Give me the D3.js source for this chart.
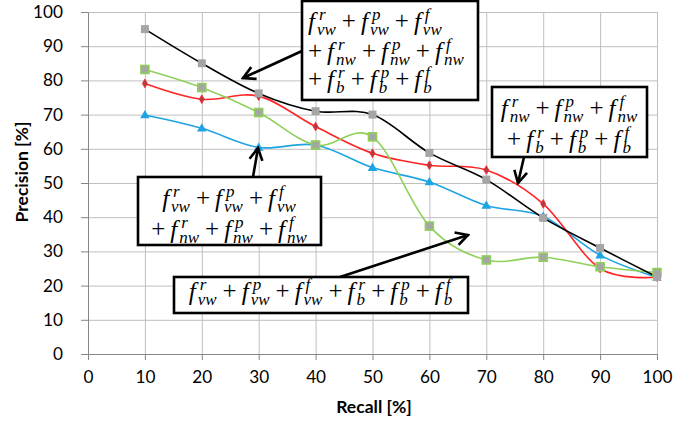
<!DOCTYPE html>
<html>
<head>
<meta charset="utf-8">
<script src="https://cdn.jsdelivr.net/npm/d3@7"></script>
<style>
  body { margin: 0; background: #fff; }
  svg { display: block; }
  .tick text { font-family: Lato, "Open Sans", sans-serif; font-size: 17.2px; fill: #000; }
</style>
</head>
<body>
<div id="chart"></div>
<script>
// Precision / recall curves for four feature combinations

var recall = [10, 20, 30, 40, 50, 60, 70, 80, 90, 100];
var xTicks = [0, 10, 20, 30, 40, 50, 60, 70, 80, 90, 100];
var yTicks = [0, 10, 20, 30, 40, 50, 60, 70, 80, 90, 100];

// all nine features (black line, grey squares)
var precAll = [95, 85, 76.2, 71, 70, 58.8, 51, 39.8, 31, 22.5];
// vw + b (green line)
var precVwB = [83.2, 77.9, 70.6, 61.1, 63.5, 37.4, 27.5, 28.3, 25.5, 23.8];
// nw + b (red line)
var precNwB = [79.1, 74.5, 75.4, 66.5, 58.7, 55.2, 53.8, 43.9, 25, 22.5];
// vw + nw (blue line)
var precVwNw = [69.9, 66, 60.4, 61.1, 54.5, 50.3, 43.4, 40.2, 28.9, 22.4];

// annotation formulas: each term is [superscript, subscript]
var formulaAll = [
    { lead: false, terms: [['r', 'vw'], ['p', 'vw'], ['f', 'vw']] },
    { lead: true,  terms: [['r', 'nw'], ['p', 'nw'], ['f', 'nw']] },
    { lead: true,  terms: [['r', 'b'], ['p', 'b'], ['f', 'b']] }
];
var formulaNwB = [
    { lead: false, terms: [['r', 'nw'], ['p', 'nw'], ['f', 'nw']] },
    { lead: true,  terms: [['r', 'b'], ['p', 'b'], ['f', 'b']] }
];
var formulaVwNw = [
    { lead: false, terms: [['r', 'vw'], ['p', 'vw'], ['f', 'vw']] },
    { lead: true,  terms: [['r', 'nw'], ['p', 'nw'], ['f', 'nw']] }
];
var formulaVwB = [
    { lead: false, terms: [['r', 'vw'], ['p', 'vw'], ['f', 'vw'], ['r', 'b'], ['p', 'b'], ['f', 'b']] }
];

var width = 675, height = 423;
var margin = { top: 12, right: 18, bottom: 69, left: 88 };
var FONT = 'Lato, "Open Sans", sans-serif';
var MATH = '"Liberation Serif", "DejaVu Serif", serif';

var svg = d3.select('#chart').append('svg')
    .attr('width', width)
    .attr('height', height);

var x = d3.scaleLinear().domain([0, 100]).range([margin.left, width - margin.right]);
var y = d3.scaleLinear().domain([0, 100]).range([height - margin.bottom, margin.top]);

// ============================================================================
// GRID + AXES
// ============================================================================

svg.append('g')
    .attr('transform', 'translate(0,' + y(0) + ')')
    .call(d3.axisBottom(x).tickValues(xTicks).tickSize(-(y(0) - y(100))).tickFormat(''))
    .call(function(g) {
        g.select('.domain').remove();
        g.selectAll('line').attr('stroke', '#bfbfbf');
    });

svg.append('g')
    .attr('transform', 'translate(' + x(0) + ',0)')
    .call(d3.axisLeft(y).tickValues(yTicks).tickSize(-(x(100) - x(0))).tickFormat(''))
    .call(function(g) {
        g.select('.domain').remove();
        g.selectAll('line').attr('stroke', '#bfbfbf');
    });

svg.append('g')
    .attr('transform', 'translate(0,' + y(0) + ')')
    .call(d3.axisBottom(x).tickValues(xTicks).tickSize(6).tickSizeOuter(0).tickPadding(11))
    .call(function(g) {
        g.select('.domain').attr('stroke', '#868686');
        g.selectAll('line').attr('stroke', '#868686');
    });

svg.append('g')
    .attr('transform', 'translate(' + x(0) + ',0)')
    .call(d3.axisLeft(y).tickValues(yTicks).tickSize(7).tickSizeOuter(0).tickPadding(18))
    .call(function(g) {
        g.select('.domain').attr('stroke', '#868686');
        g.selectAll('line').attr('stroke', '#868686');
    });

svg.append('text')
    .attr('x', 374)
    .attr('y', 413)
    .attr('text-anchor', 'middle')
    .style('font-family', FONT).style('font-weight', 'bold').style('font-size', '17.5px')
    .text('Recall [%]');

svg.append('text')
    .attr('transform', 'translate(28,172) rotate(-90)')
    .attr('text-anchor', 'middle')
    .style('font-family', FONT).style('font-weight', 'bold').style('font-size', '17.5px')
    .text('Precision [%]');

// ============================================================================
// SERIES
// ============================================================================

var line = d3.line()
    .x(function(d) { return x(d[0]); })
    .y(function(d) { return y(d[1]); })
    .curve(d3.curveCardinal.tension(0));

function pairs(vals) { return recall.map(function(r, i) { return [r, vals[i]]; }); }

var series = [
    { vals: precVwNw, color: '#1ea3e3', marker: 'triangle' },
    { vals: precNwB, color: '#ff2525', marker: 'diamond' },
    { vals: precVwB, color: '#8fd058', marker: 'greensq' },
    { vals: precAll, color: '#000000', marker: 'greysq' }
];

series.forEach(function(s) {
    svg.append('path')
        .datum(pairs(s.vals))
        .attr('fill', 'none')
        .attr('stroke', s.color)
        .attr('stroke-width', 1.6)
        .attr('d', line);
});

series.forEach(function(s) {
    var g = svg.append('g');
    pairs(s.vals).forEach(function(d) {
        var cx = x(d[0]), cy = y(d[1]);
        if (s.marker === 'triangle') {
            g.append('path').attr('d', d3.symbol(d3.symbolTriangle, 40)())
                .attr('transform', 'translate(' + cx + ',' + (cy + 0.5) + ')')
                .attr('fill', '#1ea3e3');
        } else if (s.marker === 'greensq') {
            g.append('rect').attr('x', cx - 4).attr('y', cy - 4).attr('width', 8).attr('height', 8)
                .attr('fill', '#a5a5a5').attr('stroke', '#8fd058').attr('stroke-width', 1.6);
        } else if (s.marker === 'diamond') {
            g.append('path').attr('d', d3.symbol(d3.symbolDiamond, 22)())
                .attr('transform', 'translate(' + cx + ',' + cy + ')')
                .attr('fill', '#b23a48').attr('stroke', '#ff2525').attr('stroke-width', 0.8);
        } else {
            g.append('rect').attr('x', cx - 4).attr('y', cy - 4).attr('width', 8).attr('height', 8)
                .attr('fill', '#a5a5a5');
        }
    });
});

// ============================================================================
// ANNOTATIONS
// ============================================================================

var defs = svg.append('defs');
defs.append('marker')
    .attr('id', 'arrow')
    .attr('viewBox', '0 -8 16 16')
    .attr('refX', 14).attr('refY', 0)
    .attr('markerWidth', 16).attr('markerHeight', 16)
    .attr('markerUnits', 'userSpaceOnUse')
    .attr('orient', 'auto')
    .append('path')
    .attr('d', 'M2,-6.5 L14,0 L2,6.5')
    .attr('fill', 'none').attr('stroke', '#000').attr('stroke-width', 2.6);

function arrow(x1, y1, x2, y2) {
    svg.append('line')
        .attr('x1', x1).attr('y1', y1).attr('x2', x2).attr('y2', y2)
        .attr('stroke', '#000').attr('stroke-width', 2.6)
        .attr('marker-end', 'url(#arrow)');
}

var MS = 25, SS = 17;

function mathLine(parent, spec) {
    var g = parent.append('g');
    var cx = 0;
    function txt(s, size, italic, px, py) {
        var t = g.append('text').attr('x', px).attr('y', py)
            .style('font-family', MATH).style('font-size', size + 'px')
            .style('font-style', italic ? 'italic' : 'normal').text(s);
        return t.node().getComputedTextLength();
    }
    spec.terms.forEach(function(term, i) {
        if (i > 0 || spec.lead) {
            cx += (i > 0 ? 5 : 0);
            cx += txt('+', MS, false, cx, -1);
            cx += 5;
        }
        var fw = txt('f', MS, true, cx, 0);
        cx += fw;
        var w1 = txt(term[0], SS, true, cx + 4, -10);
        var w2 = txt(term[1], SS, true, cx + 2, 5);
        cx += Math.max(w1 + 4, w2 + 2) + 1;
    });
    return { g: g, w: cx };
}

function formulaBox(lines, box, baselines, align, padLeft) {
    svg.append('rect')
        .attr('x', box[0]).attr('y', box[1])
        .attr('width', box[2] - box[0]).attr('height', box[3] - box[1])
        .attr('fill', '#fff').attr('stroke', '#000').attr('stroke-width', 2.6);
    lines.forEach(function(spec, i) {
        var m = mathLine(svg, spec);
        var lx = align === 'left' ? box[0] + padLeft : (box[0] + box[2]) / 2 - m.w / 2;
        m.g.attr('transform', 'translate(' + lx + ',' + baselines[i] + ')');
    });
}

arrow(302, 51, 243, 78);
formulaBox(formulaAll, [302, 1, 478, 100], [30, 60, 88], 'left', 6);

arrow(524, 157, 518, 183);
formulaBox(formulaNwB, [492, 87, 647, 157], [117, 148], 'center');

arrow(253, 177, 258, 148);
formulaBox(formulaVwNw, [138, 177, 321, 245], [207, 238], 'center');

arrow(340, 277, 468, 235);
formulaBox(formulaVwB, [174, 277, 468, 313], [300], 'center');
</script>
</body>
</html>
